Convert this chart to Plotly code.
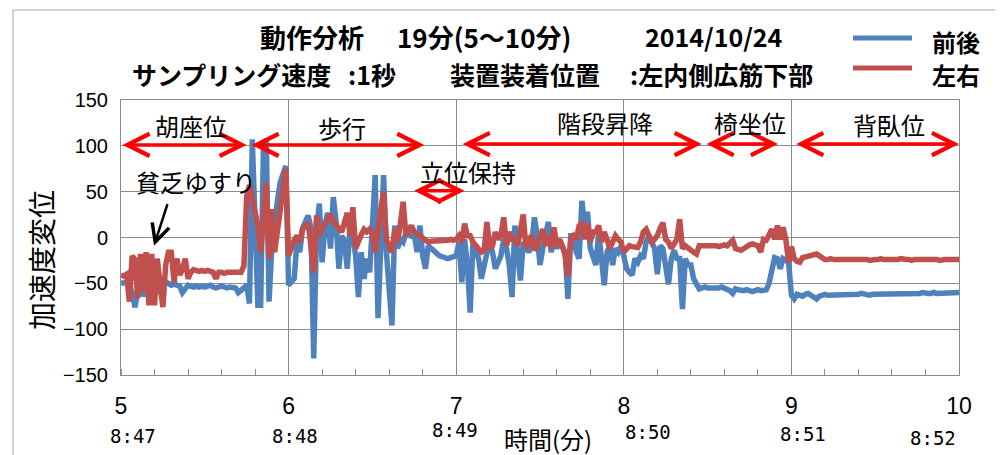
import plotly.graph_objects as go

# ---------------- data ----------------
seconds = list(range(301))                      # 1-second sampling, 5:00 .. 10:00
time_min = [5 + s / 60 for s in seconds]

zengo = [  # 前後 (blue)
    -50, -50, -49, -52, -60, -76, -58, -52, -64, -56,
    -50, -53, -52, -55, -60, -52, -49, -50, -52, -51,
    -52, -53, -60, -55, -52, -53, -54, -53, -54, -53,
    -54, -53, -52, -54, -55, -54, -53, -54, -55, -54,
    -54, -55, -60, -58, -55, -52, -72, 107, 20, -74,
    -74, 100, 107, -70, -10, 20, 40, 60, 70, 78,
    -52, -48, -45, -5, -16, 10, 17, 24, 10, -132,
    9, 37, -27, 13, 27, -12, 44, 17, -34, 2,
    -5, -34, 13, 2, -20, -65, -16, -45, -23, -38,
    13, 68, -88, -16, 68, -16, -50, -96, 13, -12,
    -2, -5, 5, 13, 0, 3, -16, 13, -20, -34,
    -9, -12, -16, -18, -20, -21, -22, -23, -22, -21,
    -20, -5, -49, -2, -30, -82, -5, -16, -23, -45,
    -30, -16, -3, -16, -34, -27, -20, -2, -12, -30,
    -65, 13, -16, -47, -5, -12, -16, -9, 22, 2,
    -30, -12, 0, 17, -16, -2, -12, -5, -10, -16,
    -67, 2, 2, -16, -23, 40, 13, 28, -12, -20,
    -30, 6, -23, -52, -16, -9, -30, -12, -16, -9,
    -20, -34, -38, -41, -23, -27, -20, -23, -5, 2,
    -5, -12, -40, -9, -12, -30, -51, -23, -14, -23,
    -23, -78, -23, -30, -30, -45, -50, -56, -55, -54,
    -55, -55, -56, -55, -55, -54, -55, -56, -58, -61,
    -56, -57, -58, -58, -57, -58, -59, -58, -57, -58,
    -58, -57, -50, -34, -22, -23, -34, -23, -25, -27,
    -63, -67, -62, -63, -64, -62, -61, -63, -65, -67,
    -64, -63, -62, -63, -63, -62, -63, -62, -63, -62,
    -63, -62, -62, -63, -62, -61, -62, -62, -63, -62,
    -62, -61, -62, -62, -61, -62, -62, -61, -62, -61,
    -61, -62, -61, -61, -62, -61, -61, -60, -61, -61,
    -61, -60, -61, -61, -60, -61, -60, -60, -61, -60,
    -60,
]

sayu = [  # 左右 (red)
    -41, -42, -40, -70, -20, -24, -66, -18, -59, -16,
    -74, -18, -74, -23, -52, -76, -30, -16, -16, -49,
    -23, -41, -35, -23, -45, -38, -35, -36, -37, -36,
    -37, -36, -37, -38, -45, -38, -38, -39, -38, -38,
    -38, -38, -38, -38, -31, 45, 57, 40, 25, 13,
    -16, 31, 60, -23, 31, -16, 10, 27, 55, 75,
    -20, -10, -3, 2, -5, 9, 12, 16, -10, -38,
    24, 2, 10, 16, 20, 25, 18, 13, 10, 6,
    15, 27, 2, 33, -12, -2, 3, 9, 6, 9,
    5, -16, 13, 30, 50, -2, -10, -16, 9, -5,
    15, 39, 2, 8, 13, 6, 4, 1, 0, -3,
    -5, -4, -4, -3, -3, -4, -3, -3, -2, -3,
    -2, 2, -5, 15, 2, 2, -5, -8, -12, -16,
    -14, 17, -12, -9, 6, -2, 2, 22, -9, 6,
    -2, -2, -9, 10, 25, -12, -2, 2, -14, -9,
    2, 9, -9, 2, -12, 11, -9, -2, -9, -20,
    -42, -2, 2, -2, 13, 15, -2, 15, -5, 6,
    6, 13, -5, 6, -2, -12, -5, 2, -2, -5,
    -16, -12, -9, -10, -11, -11, -5, 6, 9, 2,
    -5, -2, 2, 10, 16, -2, -5, -12, -8, -2,
    20, -12, -9, -12, -14, -16, -18, -9, -9, -9,
    -9, -8, -9, -9, -10, -9, -8, -9, -5, -3,
    -12, -13, -14, -12, -9, -8, -7, -8, -9, -16,
    -2, -3, 3, 9, -2, 13, -2, 11, -2, -27,
    -10, -23, -26, -27, -22, -21, -20, -19, -18, -18,
    -20, -23, -24, -24, -23, -24, -24, -23, -24, -24,
    -24, -23, -24, -24, -24, -23, -24, -24, -25, -24,
    -24, -24, -23, -24, -24, -25, -24, -24, -24, -23,
    -24, -24, -24, -25, -24, -24, -24, -23, -24, -24,
    -24, -24, -24, -25, -24, -24, -24, -24, -24, -24,
    -24,
]

x_ticks = [5, 6, 7, 8, 9, 10]
clock_labels = ["8:47", "8:48", "8:49", "8:50", "8:51", "8:52"]

phase_names = ["胡座位", "歩行", "立位保持", "階段昇降", "椅坐位", "背臥位"]
phase_start = [5.0, 5.77, 6.74, 7.03, 8.485, 9.02]
phase_end = [5.75, 6.81, 7.05, 8.465, 8.92, 10.0]
phase_arrow_y = [101, 101, 51, 102, 102, 102]
phase_label_x = [5.42, 6.32, 7.07, 7.89, 8.75, 9.58]
phase_label_y = [122, 120, 72, 125, 125, 123]

# ---------------- figure ----------------
# the page body has an 8px margin; the plot area is placed in page pixels
OFF = 8
PAGE_W, PAGE_H = 1003, 455
PL, PR, PT, PB = 121, 959, 100, 375          # plot area, page pixels
W, H = PAGE_W - OFF, PAGE_H - OFF
L, T = PL - OFF, PT - OFF
R, B = W - (PR - OFF), H - (PB - OFF)


def px2x(px):
    return (px - PL) / (PR - PL)


def py2y(py):
    return (PB - py) / (PB - PT)


JP = "Noto Sans CJK JP"
BLUE = "#4F81BD"
RED = "#C0504D"
GRID = "#8C8C8C"

fig = go.Figure()
fig.add_trace(go.Scatter(x=time_min, y=zengo, mode="lines", name="前後",
                         line=dict(color=BLUE, width=5.5), showlegend=False))
fig.add_trace(go.Scatter(x=time_min, y=sayu, mode="lines", name="左右",
                         line=dict(color=RED, width=5.5), showlegend=False))

ann = []
# titles
title_parts = [
    ("動作分析", 258, 36, 26), ("19分(5～10分)", 395, 36, 26), ("2014/10/24", 643, 36, 25),
    ("サンプリング速度", 130, 74, 25), (":1秒", 346, 74, 25),
    ("装置装着位置", 448, 74, 25), (":左内側広筋下部", 628, 74, 25),
]
for txt, px, py, fs in title_parts:
    ann.append(dict(text=txt, x=px2x(px), y=py2y(py), xref="paper", yref="paper",
                    xanchor="left", yanchor="middle", showarrow=False,
                    font=dict(family=JP, size=fs, color="black", weight="bold")))

# legend (manual)
for name, color, py, ty in [("前後", BLUE, 38, 42), ("左右", RED, 68, 74)]:
    fig.add_shape(type="line", xref="paper", yref="paper",
                  x0=px2x(853), x1=px2x(912), y0=py2y(py), y1=py2y(py),
                  line=dict(color=color, width=5))
    ann.append(dict(text=name, x=px2x(930), y=py2y(ty), xref="paper", yref="paper",
                    xanchor="left", yanchor="middle", showarrow=False,
                    font=dict(family=JP, size=24, color="black", weight="bold")))

# phase arrows and labels
for name, xs, xe, ya, lx, ly in zip(phase_names, phase_start, phase_end,
                                    phase_arrow_y, phase_label_x, phase_label_y):
    ann.append(dict(x=xe, y=ya, ax=xs, ay=ya, xref="x", yref="y", axref="x", ayref="y",
                    text="", showarrow=True, arrowhead=5, startarrowhead=5,
                    arrowside="end+start", arrowsize=1.25, startarrowsize=1.25,
                    arrowwidth=3.5, arrowcolor="#FF0000", standoff=0, startstandoff=0))
    ann.append(dict(text=name, x=lx, y=ly, xref="x", yref="y", showarrow=False,
                    xanchor="center", yanchor="middle",
                    font=dict(family=JP, size=24, color="black")))

# 貧乏ゆすり
ann.append(dict(text="貧乏ゆすり", x=5.45, y=61, xref="x", yref="y", showarrow=False,
                xanchor="center", yanchor="middle",
                font=dict(family=JP, size=24, color="black")))
ann.append(dict(x=5.197, y=-9, ax=5.28, ay=38, xref="x", yref="y", axref="x", ayref="y",
                text="", showarrow=True, arrowhead=5, arrowsize=1.4, arrowwidth=2.5,
                arrowcolor="black", standoff=0))

# clock labels
clock_px = [133, 295, 455, 648, 803, 933]
clock_py = [436, 436, 430, 432, 434, 438]
for lab, px, py in zip(clock_labels, clock_px, clock_py):
    ann.append(dict(text=lab, x=px2x(px), y=py2y(py), xref="paper", yref="paper",
                    showarrow=False, xanchor="center", yanchor="middle",
                    font=dict(family="DejaVu Sans Mono", size=19, color="black")))

# axis titles
ann.append(dict(text="時間(分)", x=px2x(548), y=py2y(438), xref="paper", yref="paper",
                showarrow=False, xanchor="center", yanchor="middle",
                font=dict(family=JP, size=24, color="black")))
ann.append(dict(text="加速度変位", x=px2x(41), y=py2y(260), xref="paper", yref="paper",
                showarrow=False, textangle=-90, xanchor="center", yanchor="middle",
                font=dict(family=JP, size=28, color="black")))

# outer chart border
fig.add_shape(type="rect", xref="paper", yref="paper", layer="below",
              x0=px2x(13), x1=px2x(1012), y0=py2y(470), y1=py2y(10),
              line=dict(color="#A6A6A6", width=1))

fig.update_layout(
    width=W, height=H, margin=dict(l=L, r=R, t=T, b=B),
    paper_bgcolor="white", plot_bgcolor="white",
    annotations=ann, showlegend=False,
    xaxis=dict(range=[5, 10], tickvals=x_ticks, ticktext=[str(v) for v in x_ticks],
               showgrid=True, gridcolor=GRID, gridwidth=1, zeroline=False,
               showline=True, linecolor=GRID, linewidth=1, mirror=True, ticks="",
               minor=dict(dtick=0.2, ticks="inside", ticklen=6, tickcolor=GRID,
                          showgrid=False),
               tickfont=dict(family="Liberation Sans", size=23, color="black"),
               ticklabelstandoff=10),
    yaxis=dict(range=[-150, 150], dtick=50, showgrid=True, gridcolor=GRID, gridwidth=1,
               zeroline=False, showline=True, linecolor=GRID, linewidth=1, mirror=True,
               ticks="", tickfont=dict(family="Liberation Sans", size=20, color="black"),
               ticklabelstandoff=8),
)

fig.write_html("out.html")
